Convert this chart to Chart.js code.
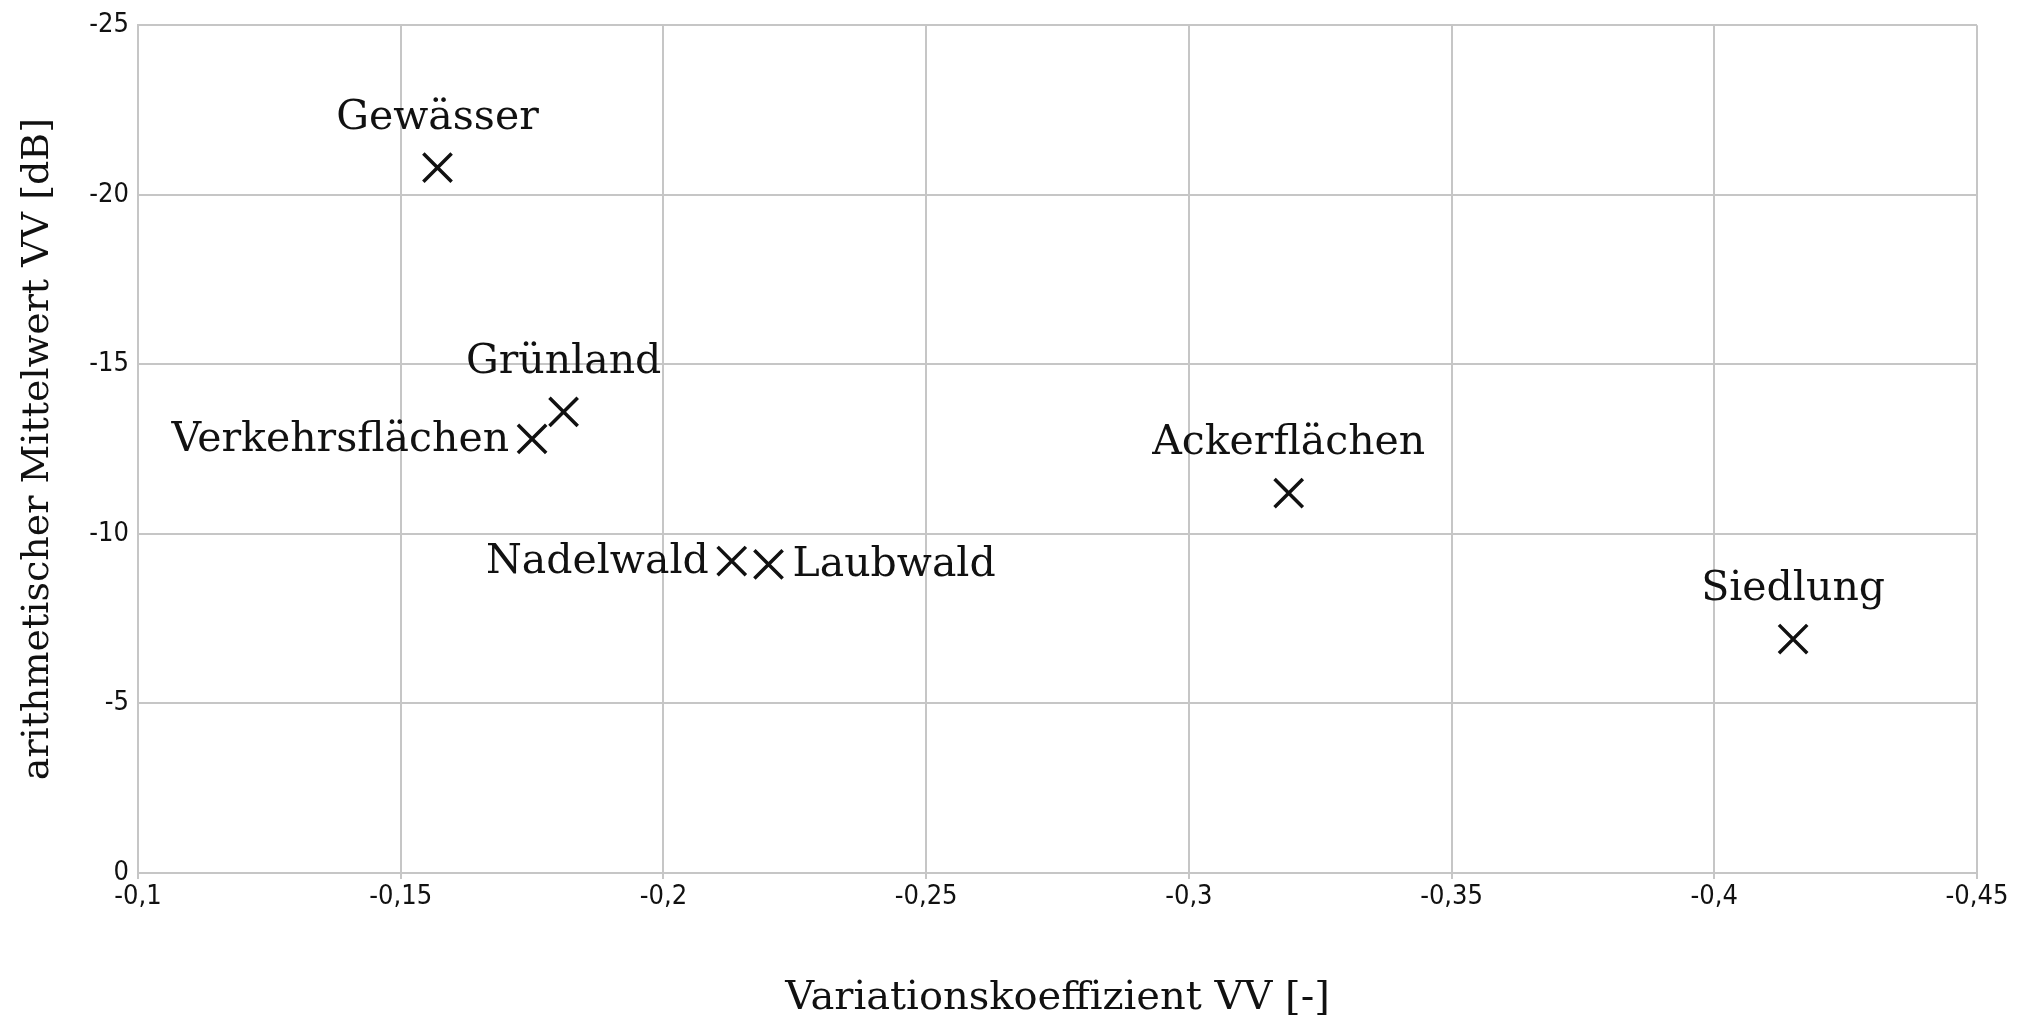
<!DOCTYPE html>
<html>
<head>
<meta charset="utf-8">
<script src="https://cdn.jsdelivr.net/npm/chart.js@4/dist/chart.umd.min.js"></script>
<style>
  body { margin: 0; background: #fff; }
</style>
</head>
<body>
<canvas id="streuung" width="2026" height="1023"></canvas>
<script>
// Landnutzungsklassen und ihre Werte
const klassen = ['Gewässer', 'Grünland', 'Verkehrsflächen', 'Nadelwald', 'Laubwald', 'Ackerflächen', 'Siedlung'];
const variationskoeffizient = [-0.157, -0.181, -0.175, -0.213, -0.220, -0.319, -0.415];
const mittelwert = [-20.8, -13.6, -12.8, -9.2, -9.1, -11.2, -6.9];
// wo die Beschriftung neben dem Kreuz steht
const beschriftungSeite = ['oben', 'oben', 'links', 'links', 'rechts', 'oben', 'oben'];

const punkte = klassen.map((k, i) => ({ x: variationskoeffizient[i], y: mittelwert[i] }));

const gitterFarbe = '#c6c6c6';
const serif = "'DejaVu Serif', 'Liberation Serif', serif";
const schmal = "'Liberation Sans Narrow', 'DejaVu Sans Condensed', 'Liberation Sans', sans-serif";

function komma(v) {
    return String(Math.round(v * 100) / 100).replace('.', ',');
}

// Beschriftung der Punkte
const punktNamen = {
    id: 'punktNamen',
    afterDatasetsDraw(chart) {
        const c = chart.ctx;
        const meta = chart.getDatasetMeta(0);
        c.save();
        c.fillStyle = '#111';
        c.font = '41px ' + serif;
        meta.data.forEach((p, i) => {
            const seite = beschriftungSeite[i];
            if (seite === 'oben') {
                c.textAlign = 'center';
                c.textBaseline = 'alphabetic';
                c.fillText(klassen[i], p.x, p.y - 39);
            } else if (seite === 'links') {
                c.textAlign = 'right';
                c.textBaseline = 'middle';
                c.fillText(klassen[i], p.x - 23, p.y + 1);
            } else {
                c.textAlign = 'left';
                c.textBaseline = 'middle';
                c.fillText(klassen[i], p.x + 24, p.y + 1);
            }
        });
        c.restore();
    }
};

new Chart(document.getElementById('streuung').getContext('2d'), {
    type: 'scatter',
    data: {
        datasets: [{
            label: 'Landnutzung',
            data: punkte,
            pointStyle: 'crossRot',
            pointRadius: 20,
            pointHoverRadius: 20,
            borderColor: '#111',
            backgroundColor: '#111',
            pointBorderWidth: 3.5
        }]
    },
    options: {
        responsive: false,
        animation: false,
        layout: { padding: { top: 22, right: 49, left: 0, bottom: 0 } },
        plugins: {
            legend: { display: false },
            tooltip: { enabled: false }
        },
        scales: {
            x: {
                type: 'linear',
                min: -0.45,
                max: -0.1,
                reverse: true,
                afterFit: s => { s.height = 150; },
                grid: { color: gitterFarbe, lineWidth: 2, tickLength: 6 },
                border: { color: gitterFarbe, width: 2 },
                ticks: {
                    stepSize: 0.05,
                    padding: 2,
                    color: '#111',
                    font: { family: schmal, size: 27 },
                    maxRotation: 0,
                    callback: v => komma(v)
                },
                title: {
                    display: true,
                    text: 'Variationskoeffizient VV [-]',
                    color: '#111',
                    font: { family: serif, size: 40 },
                    padding: { top: 0, bottom: 0 }
                }
            },
            y: {
                type: 'linear',
                min: -25,
                max: 0,
                reverse: true,
                afterFit: s => { s.width = 138; },
                grid: { color: gitterFarbe, lineWidth: 2, drawTicks: false },
                border: { color: gitterFarbe, width: 2 },
                ticks: {
                    stepSize: 5,
                    padding: 9,
                    color: '#111',
                    font: { family: schmal, size: 27 },
                    callback: v => komma(v)
                },
                title: {
                    display: true,
                    text: 'arithmetischer Mittelwert VV [dB]',
                    color: '#111',
                    font: { family: serif, size: 38 },
                    padding: { top: 15, bottom: 0 }
                }
            }
        }
    },
    plugins: [punktNamen]
});
</script>
</body>
</html>
